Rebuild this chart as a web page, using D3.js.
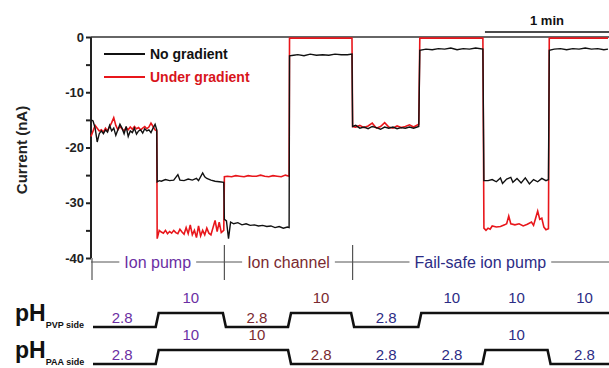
<!DOCTYPE html>
<html>
<head>
<meta charset="utf-8">
<script src="https://cdn.jsdelivr.net/npm/d3@7"></script>
<style>
  body { margin: 0; background: #fff; }
  text { font-family: "Liberation Sans", Arial, sans-serif; }
</style>
</head>
<body>
<div id="chart"></div>
<script>
// ---- DATA --------------------------------------------------
// time in seconds, current in nA
var noGradient = [
  [0,-15],[1,-15.2],[2,-16.5],[3,-19],[4,-17.5],[5,-17],[6,-17.5],[7,-16.8],[8,-17.2],[9,-16],
  [10,-17],[11,-16.5],[12,-17.8],[13,-16.8],[14,-15.8],[15,-16.5],[16,-17.5],[17,-16.2],[18,-18],
  [19,-17],[20,-17.3],[21,-16.5],[22,-17.6],[23,-17],[24,-16.8],[25,-17.4],[26,-16.6],[27,-17],
  [28,-16.8],[29,-17.3],[30,-16.5],[31,-15.8],[31.8,-16.8],
  [32,-26.2],[33,-26],[34,-26.1],[36,-25.8],[38,-26],[40,-25.9],[42,-24.9],[43,-25.9],[45,-26],
  [47,-25.7],[49,-25.9],[51,-25.6],[52,-26],[54,-24.6],[55,-25.3],[56,-25.6],[58,-25.9],[60,-26.1],
  [62,-26.2],[64.2,-26.3],
  [64.5,-33],[65.5,-33.3],[66.5,-36.5],[67.5,-33.5],[69,-33.8],[71,-33.6],[73,-34],[75,-33.8],
  [77,-34.1],[79,-34],[81,-34.2],[83,-34.1],[85,-34.3],[87,-34.2],[89,-34.5],[91,-34.3],[93,-34.6],
  [95,-34.4],[95.8,-34.5],
  [96,-3.4],[98,-3.3],[100,-3.2],[103,-3.4],[106,-3.1],[109,-3.3],[112,-3.2],[115,-3.3],[118,-3.1],
  [121,-3.2],[124,-3.2],[126.2,-3.1],
  [126.5,-16.2],[128,-16],[130,-16.5],[132,-16.3],[134,-16.6],[136,-16.2],[138,-16.4],[140,-16.7],
  [142,-16.3],[144,-16.5],[146,-16.3],[148,-16.6],[150,-16.4],[152,-16.5],[154,-16.3],[156,-16.5],
  [158.5,-16.2],
  [159,-2.4],[162,-2.2],[165,-2.3],[168,-2.1],[171,-2.2],[174,-2],[177,-2.3],[180,-2.1],[183,-2.2],
  [186,-2],[189.5,-2.2],
  [190,-26],[192,-26],[194,-25.8],[196,-26.2],[198,-25.5],[199,-26.5],[201,-25.7],[203,-25.4],
  [204,-26.3],[206,-25.6],[208,-26.4],[210,-25.5],[212,-26.6],[214,-25.8],[216,-26.2],[218,-25.6],
  [220,-26],[221.2,-25.8],
  [221.6,-2.4],[224,-2.2],[227,-2.1],[230,-2.3],[233,-2.1],[236,-2.2],[239,-2],[242,-2.2],[245,-2.1],
  [248,-2.3],[250,-2.2]
];

var underGradient = [
  [0,-18],[1,-17],[2,-16],[3,-16.5],[4,-17],[5,-16.8],[6,-17.2],[7,-16.5],[8,-17],[9,-16.2],
  [10,-15.5],[11,-14.6],[12,-16],[13,-16.8],[14,-16.2],[15,-16.6],[16,-17],[17,-16.4],[18,-16.8],
  [19,-16.3],[20,-16.7],[21,-16.2],[22,-16.6],[23,-16.4],[24,-16.8],[25,-16.5],[26,-16.2],[27,-16.6],
  [28,-16.3],[29,-15.6],[30,-16.2],[31,-16.8],[31.8,-17],
  [32,-36.5],[33,-35],[34,-35.3],[35,-35.5],[36,-35],[37,-35.6],[38,-35.2],[39,-35.5],[40,-35],
  [41,-35.4],[42,-35.6],[43,-34.8],[44,-35.3],[45,-35.7],[46,-34.5],[47,-35.6],[48,-34],[49,-35.8],
  [50,-35],[51,-36.3],[52,-34.2],[53,-36],[54,-35],[55,-35.8],[56,-34.6],[57,-35.5],[58,-35.8],
  [59,-34.5],[60,-33.2],[61,-35.2],[62,-33.5],[63,-35.4],[64.2,-35],
  [64.5,-25.3],[66,-25.2],[68,-25.3],[70,-25.1],[72,-25.2],[74,-25.3],[76,-25.1],[78,-25.2],
  [80,-25.2],[82,-25],[84,-25.2],[86,-25.3],[88,-25.1],[90,-25.2],[92,-25.3],[94,-25],[95.8,-25.2],
  [96,-0.2],[126.2,-0.2],
  [126.5,-16.2],[128,-16.3],[130,-16],[132,-16.4],[134,-16.1],[136,-15.6],[138,-16.5],[140,-16.2],
  [142,-15.5],[144,-16.3],[146,-16.5],[148,-16.1],[150,-16.4],[152,-16.2],[154,-15.9],[156,-16.3],
  [158.5,-15.8],
  [159,-0.2],[189.5,-0.2],
  [190,-34.6],[191,-35],[192,-34.6],[193,-34.8],[194,-34.2],[196,-34.4],[198,-34.3],[200,-34],
  [201,-33.8],[202,-32.4],[203,-33.8],[205,-34],[207,-33.8],[209,-34.2],[211,-33.9],[213,-33.5],
  [214,-34.1],[215,-32.8],[216,-31.5],[217,-33],[218,-32.8],[219,-34.4],[220,-34.9],[221.2,-34.7],
  [221.6,-0.2],[250,-0.2]
];

// switching times (s) and pH on each side per interval
var switchTimes = [0, 32, 64.5, 96, 126.5, 159, 190, 221.5, 250];
var pHPVP = [2.8, 10, 2.8, 10, 2.8, 10, 10, 10];
var pHPAA = [2.8, 10, 10, 2.8, 2.8, 2.8, 10, 2.8];
var modes = [
  { name: "Ion pump", from: 0, to: 64.5, color: "#6b2fa3" },
  { name: "Ion channel", from: 64.5, to: 126.5, color: "#7a2a30" },
  { name: "Fail-safe ion pump", from: 126.5, to: 250, color: "#2c2c85" }
];
var yTicks = [0, -10, -20, -30, -40];

// ---- SETUP --------------------------------------------------
var w = 609, h = 368;
var svg = d3.select("#chart").append("svg").attr("width", w).attr("height", h);

var xScale = d3.scaleLinear().domain([0, 250]).range([91, 608]);
var yScale = d3.scaleLinear().domain([0, -40]).range([37, 258]);

function modeColor(t) {
  for (var i = 0; i < modes.length; i++) {
    if (t >= modes[i].from && t < modes[i].to) return modes[i].color;
  }
  return modes[modes.length - 1].color;
}

// ---- AXES --------------------------------------------------
var yAxis = d3.axisLeft(yScale)
  .tickValues(d3.range(0, -41, -5))
  .tickSize(5)
  .tickFormat(function(d) { return yTicks.indexOf(d) >= 0 ? d : ""; });

var gy = svg.append("g")
  .attr("transform", "translate(" + xScale(0) + ",0)")
  .call(yAxis);
gy.select(".domain").attr("stroke", "#222").attr("stroke-width", 2)
  .attr("d", "M0," + yScale(0) + "V" + yScale(-40));
gy.selectAll(".tick line").attr("stroke", "#222").attr("stroke-width", 2);
gy.selectAll(".tick text")
  .attr("font-size", "13px").attr("font-weight", "bold").attr("fill", "#222").attr("x", -7);

// top border line
svg.append("line")
  .attr("x1", xScale(0)).attr("x2", w)
  .attr("y1", yScale(0)).attr("y2", yScale(0))
  .attr("stroke", "#333").attr("stroke-width", 1.5);

svg.append("text")
  .attr("transform", "translate(27," + 150 + ") rotate(-90)")
  .attr("text-anchor", "middle")
  .attr("font-size", "15px").attr("font-weight", "bold").attr("fill", "#222")
  .text("Current (nA)");

// 1 min scale bar
svg.append("line")
  .attr("x1", xScale(190.5)).attr("x2", xScale(250.5))
  .attr("y1", 32).attr("y2", 32)
  .attr("stroke", "#111").attr("stroke-width", 1.5);
svg.append("text")
  .attr("x", xScale(220.5)).attr("y", 25)
  .attr("text-anchor", "middle")
  .attr("font-size", "13px").attr("font-weight", "bold").attr("fill", "#111")
  .text("1 min");

// ---- TRACES --------------------------------------------------
var line = d3.line()
  .x(function(d) { return xScale(d[0]); })
  .y(function(d) { return yScale(d[1]); });

svg.append("path").datum(underGradient)
  .attr("d", line).attr("fill", "none")
  .attr("stroke", "#e8161b").attr("stroke-width", 1.6);
svg.append("path").datum(noGradient)
  .attr("d", line).attr("fill", "none")
  .attr("stroke", "#111").attr("stroke-width", 1.4);

// legend
var legend = [
  { label: "No gradient", color: "#111", textColor: "#111" },
  { label: "Under gradient", color: "#e8161b", textColor: "#d8141b" }
];
legend.forEach(function(l, i) {
  svg.append("line")
    .attr("x1", 104).attr("x2", 145)
    .attr("y1", 54 + i * 23).attr("y2", 54 + i * 23)
    .attr("stroke", l.color).attr("stroke-width", 1.8);
  svg.append("text")
    .attr("x", 150).attr("y", 59 + i * 23)
    .attr("font-size", "14px").attr("font-weight", "bold").attr("fill", l.textColor)
    .text(l.label);
});

// ---- MODE LABELS --------------------------------------------------
var modeY = 262;
var gapPad = 5;
var modeEdges = [];
modes.forEach(function(m) {
  var t = svg.append("text")
    .attr("x", (xScale(m.from) + xScale(m.to)) / 2)
    .attr("y", modeY + 6)
    .attr("text-anchor", "middle")
    .attr("font-size", "16px").attr("fill", m.color)
    .text(m.name);
  var b = t.node().getBBox();
  modeEdges.push([b.x - gapPad, b.x + b.width + gapPad]);
});
var segStart = xScale(0);
modeEdges.forEach(function(e) {
  svg.append("line")
    .attr("x1", segStart).attr("x2", e[0])
    .attr("y1", modeY).attr("y2", modeY)
    .attr("stroke", "#555").attr("stroke-width", 1);
  segStart = e[1];
});
svg.append("line")
  .attr("x1", segStart).attr("x2", w)
  .attr("y1", modeY).attr("y2", modeY)
  .attr("stroke", "#555").attr("stroke-width", 1);

[0, 64.5, 126.5].forEach(function(t) {
  svg.append("line")
    .attr("x1", xScale(t) + (t === 0 ? 1 : 0)).attr("x2", xScale(t) + (t === 0 ? 1 : 0))
    .attr("y1", t === 0 ? 258 : 245).attr("y2", 280)
    .attr("stroke", "#555").attr("stroke-width", 1.2);
});

// ---- pH STEPS --------------------------------------------------
function drawPH(values, yLow, label, baseY) {
  var phY = d3.scaleLinear().domain([2.8, 10]).range([yLow, yLow - 14]);
  var pts = [[xScale(0) + 2, phY(values[0])]];
  for (var i = 1; i < values.length; i++) {
    var tx = xScale(switchTimes[i]);
    if (values[i] !== values[i - 1]) {
      pts.push([tx - 1.5, phY(values[i - 1])]);
      pts.push([tx + 1.5, phY(values[i])]);
    }
  }
  pts.push([w, phY(values[values.length - 1])]);
  svg.append("path")
    .attr("d", d3.line()(pts))
    .attr("fill", "none").attr("stroke", "#111").attr("stroke-width", 2.6);

  values.forEach(function(v, i) {
    var mid = (switchTimes[i] + switchTimes[i + 1]) / 2;
    svg.append("text")
      .attr("x", xScale(mid) + (i === values.length - 1 ? 6 : 0) + (i === 0 ? -2 : 0))
      .attr("y", phY(v) - (v === 10 ? 10 : 4))
      .attr("text-anchor", "middle")
      .attr("font-size", "15px").attr("fill", modeColor(mid))
      .text(v);
  });

  var t = svg.append("text").attr("x", 15).attr("y", baseY)
    .attr("font-weight", "bold").attr("fill", "#111");
  t.append("tspan").attr("font-size", "23px").text("pH");
  t.append("tspan").attr("font-size", "9px").attr("dy", 7).text(label);
}

drawPH(pHPVP, 327, "PVP side", 321);
drawPH(pHPAA, 364, "PAA side", 358);
</script>
</body>
</html>
